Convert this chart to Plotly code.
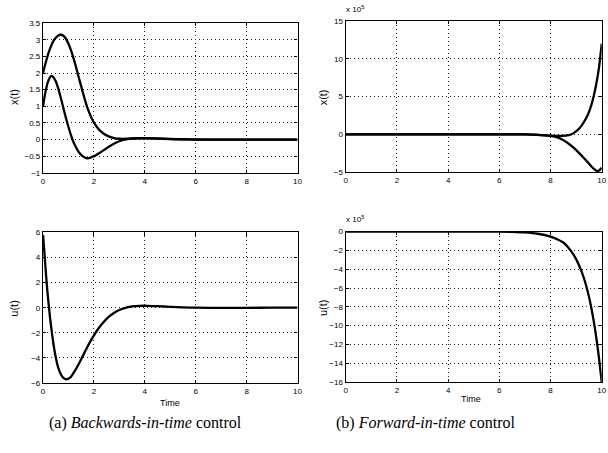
import plotly.graph_objects as go

# ---------------- data ----------------
# (a) Backwards-in-time control: state x(t), two components
t_a_x1 = [0, 0.1, 0.2, 0.3, 0.4, 0.5, 0.6, 0.7, 0.8, 0.9, 1.0, 1.1, 1.2, 1.3, 1.4, 1.5,
          1.6, 1.7, 1.8, 1.9, 2.0, 2.2, 2.4, 2.6, 2.8, 3.0, 3.3, 3.6, 4.0, 4.5, 5.0, 5.5,
          6, 7, 8, 9, 10]
a_x1 = [2.0, 2.3, 2.57, 2.78, 2.95, 3.06, 3.13, 3.15, 3.12, 3.03, 2.88, 2.68, 2.44, 2.17,
        1.88, 1.6, 1.32, 1.06, 0.84, 0.66, 0.51, 0.3, 0.17, 0.09, 0.045, 0.025, 0.025,
        0.04, 0.045, 0.035, 0.02, 0.01, 0.003, 0, 0, 0, 0]

t_a_x2 = [0, 0.1, 0.2, 0.3, 0.35, 0.4, 0.5, 0.6, 0.7, 0.8, 0.9, 1.0, 1.1, 1.2, 1.3, 1.4,
          1.5, 1.6, 1.7, 1.8, 1.9, 2.0, 2.2, 2.4, 2.6, 2.8, 3.0, 3.2, 3.5, 3.8, 4.2, 4.7,
          5.2, 6, 7, 8, 9, 10]
a_x2 = [1.0, 1.45, 1.75, 1.9, 1.91, 1.88, 1.75, 1.53, 1.25, 0.95, 0.65, 0.38, 0.13, -0.08,
        -0.24, -0.37, -0.46, -0.52, -0.56, -0.56, -0.53, -0.5, -0.41, -0.31, -0.21, -0.12,
        -0.05, 0.0, 0.03, 0.04, 0.035, 0.02, 0.01, 0.0, 0, 0, 0, 0]

# (a) control u(t)
t_a_u = [0, 0.05, 0.1, 0.15, 0.2, 0.25, 0.3, 0.4, 0.5, 0.6, 0.7, 0.8, 0.9, 1.0, 1.1, 1.2,
         1.4, 1.6, 1.8, 2.0, 2.2, 2.4, 2.6, 2.8, 3.0, 3.2, 3.5, 3.8, 4.1, 4.5, 5.0, 5.5,
         6, 7, 8, 9, 10]
a_u = [5.8, 4.5, 3.1, 1.8, 0.7, -0.3, -1.2, -2.75, -3.95, -4.8, -5.3, -5.6, -5.7, -5.65,
       -5.5, -5.2, -4.5, -3.7, -2.9, -2.2, -1.6, -1.1, -0.7, -0.4, -0.18, -0.03, 0.1, 0.15,
       0.15, 0.12, 0.07, 0.03, 0.0, -0.02, -0.01, 0, 0]

# (b) Forward-in-time control: state x(t) in units of 1e5
t_b_x1 = [0, 2, 4, 6, 7, 7.5, 8.0, 8.3, 8.6, 8.8, 9.0, 9.2, 9.4, 9.5, 9.6, 9.7, 9.8, 9.9, 10]
b_x1 = [0, 0, 0, 0, 0, -0.05, -0.15, -0.2, -0.15, 0.0, 0.4, 1.1, 2.2, 2.95, 3.95, 5.25,
        6.9, 9.0, 12.0]

t_b_x2 = [0, 2, 4, 6, 7, 7.5, 8.0, 8.3, 8.5, 8.7, 8.9, 9.1, 9.3, 9.5, 9.65, 9.8, 9.9, 10]
b_x2 = [0, 0, 0, 0, 0, -0.05, -0.2, -0.42, -0.75, -1.2, -1.75, -2.4, -3.1, -3.85, -4.4,
        -4.8, -4.75, -4.4]

# (b) control u(t) in units of 1e5
t_b_u = [0, 2, 4, 6, 6.5, 7.0, 7.5, 8.0, 8.3, 8.5, 8.7, 8.9, 9.1, 9.3, 9.5, 9.6, 9.7, 9.8,
         9.9, 10]
b_u = [0, 0, 0, 0, -0.02, -0.08, -0.22, -0.52, -0.85, -1.15, -1.7, -2.45, -3.5, -4.9,
       -6.9, -8.2, -9.7, -11.5, -13.6, -16.0]

x_ticks = [0, 2, 4, 6, 8, 10]

# ---------------- figure ----------------
W, H = 608, 453


def px(x):
    return x / W


def py(y):
    return 1 - y / H


fig = go.Figure()
line = dict(color="black", width=2.3, shape="spline", smoothing=0.8)

fig.add_trace(go.Scatter(x=t_a_x1, y=a_x1, mode="lines", line=line, xaxis="x", yaxis="y"))
fig.add_trace(go.Scatter(x=t_a_x2, y=a_x2, mode="lines", line=line, xaxis="x", yaxis="y"))
fig.add_trace(go.Scatter(x=t_b_x1, y=b_x1, mode="lines", line=line, xaxis="x2", yaxis="y2"))
fig.add_trace(go.Scatter(x=t_b_x2, y=b_x2, mode="lines", line=line, xaxis="x2", yaxis="y2"))
fig.add_trace(go.Scatter(x=t_a_u, y=a_u, mode="lines", line=line, xaxis="x3", yaxis="y3"))
fig.add_trace(go.Scatter(x=t_b_u, y=b_u, mode="lines", line=line, xaxis="x4", yaxis="y4"))

common = dict(
    showline=True, linecolor="black", linewidth=1.3, mirror="allticks",
    ticks="inside", ticklen=3, tickcolor="black", tickwidth=1,
    showgrid=True, gridcolor="#222", gridwidth=0.8, griddash="1px,3px",
    zeroline=False, tickfont=dict(family="Liberation Sans, Arial", size=8, color="black"),
)

xl = [px(41.5), px(299)]
xr = [px(347.7), px(606.7)]
yt_l = [py(172.3), py(19.5)]
yt_r = [py(171.7), py(17.3)]
yb_l = [py(386.7), py(233)]
yb_r = [py(385.7), py(232.3)]

fig.update_layout(
    width=W, height=H, margin=dict(l=0, r=0, t=0, b=0),
    paper_bgcolor="white", plot_bgcolor="white", showlegend=False,
    xaxis=dict(domain=xl, range=[0, 10], tickvals=x_ticks, anchor="y", **common),
    yaxis=dict(domain=yt_l, range=[-1, 3.5], dtick=0.5, anchor="x", **common),
    xaxis2=dict(domain=xr, range=[0, 10], tickvals=x_ticks, anchor="y2", **common),
    yaxis2=dict(domain=yt_r, range=[-5, 15], dtick=5, anchor="x2", **common),
    xaxis3=dict(domain=xl, range=[0, 10], tickvals=x_ticks, anchor="y3", **common),
    yaxis3=dict(domain=yb_l, range=[-6, 6], dtick=2, anchor="x3", **common),
    xaxis4=dict(domain=xr, range=[0, 10], tickvals=x_ticks, anchor="y4", **common),
    yaxis4=dict(domain=yb_r, range=[-16, 0], dtick=2, anchor="x4", **common),
)

lab_font = dict(family="Liberation Sans, Arial", size=11, color="black")
small_font = dict(family="Liberation Sans, Arial", size=9, color="black")
cap_font = dict(family="Liberation Serif, Times New Roman", size=16, color="black")

ann = [
    dict(text="x(t)", x=px(12), y=py(95), textangle=-90, font=lab_font),
    dict(text="x(t)", x=px(325), y=py(95), textangle=-90, font=lab_font),
    dict(text="u(t)", x=px(12), y=py(310), textangle=-90, font=lab_font),
    dict(text="u(t)", x=px(325), y=py(310), textangle=-90, font=lab_font),
    dict(text="Time", x=px(170), y=py(407), font=small_font),
    dict(text="Time", x=px(474), y=py(403), font=small_font),
    dict(text="x 10<sup>5</sup>", x=px(346), y=py(12), xanchor="left", yanchor="bottom",
         font=dict(family="Liberation Sans, Arial", size=8, color="black")),
    dict(text="x 10<sup>5</sup>", x=px(346), y=py(227), xanchor="left", yanchor="bottom",
         font=dict(family="Liberation Sans, Arial", size=8, color="black")),
    dict(text="(a) <i>Backwards-in-time</i> control", x=px(145), y=py(427), font=cap_font),
    dict(text="(b) <i>Forward-in-time</i> control", x=px(428), y=py(427), font=cap_font),
]
for a in ann:
    a.setdefault("xanchor", "center")
    a.setdefault("yanchor", "middle")
    fig.add_annotation(xref="paper", yref="paper", showarrow=False, **a)

fig.write_html(
    "out.html",
    config={"displayModeBar": False},
    post_script="document.body.style.margin='0';document.body.style.overflow='hidden';",
)
